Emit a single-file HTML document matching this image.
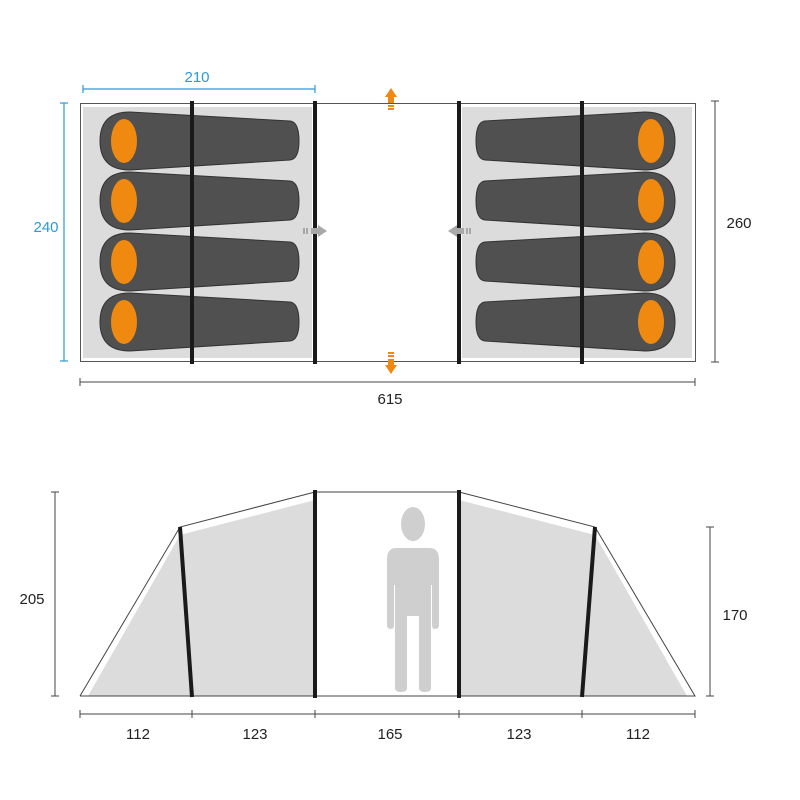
<!DOCTYPE html>
<html><head><style>html,body{margin:0;padding:0;background:#fff}svg{display:block}text{font-family:"Liberation Sans",Arial,sans-serif;font-size:15px}</style></head>
<body>
<svg width="800" height="800" viewBox="0 0 800 800" xmlns="http://www.w3.org/2000/svg">
<defs>
<path id="bagL" d="M130 112 L290 121 Q299 122 299 141 Q299 159 290 160 L130 170 Q100 170 100 141 Q100 112 130 112 Z" fill="#505050" stroke="#333" stroke-width="1"/>
</defs>
<rect x="80.5" y="103.5" width="615" height="258" fill="#fff" stroke="#555" stroke-width="1"/>
<rect x="83" y="107" width="229" height="251" fill="#dcdcdc"/>
<rect x="462" y="107" width="230" height="251" fill="#dcdcdc"/>
<g>
<use href="#bagL"/><use href="#bagL" y="60"/><use href="#bagL" y="121"/><use href="#bagL" y="181"/>
<g transform="translate(775,0) scale(-1,1)">
<use href="#bagL"/><use href="#bagL" y="60"/><use href="#bagL" y="121"/><use href="#bagL" y="181"/>
</g>
</g>
<g fill="#f0890f">
<ellipse cx="124" cy="141" rx="13" ry="22"/><ellipse cx="124" cy="201" rx="13" ry="22"/><ellipse cx="124" cy="262" rx="13" ry="22"/><ellipse cx="124" cy="322" rx="13" ry="22"/>
<ellipse cx="651" cy="141" rx="13" ry="22"/><ellipse cx="651" cy="201" rx="13" ry="22"/><ellipse cx="651" cy="262" rx="13" ry="22"/><ellipse cx="651" cy="322" rx="13" ry="22"/>
</g>
<g stroke="#1a1a1a" stroke-width="4">
<line x1="192" y1="101" x2="192" y2="364"/><line x1="315" y1="101" x2="315" y2="364"/>
<line x1="459" y1="101" x2="459" y2="364"/><line x1="582" y1="101" x2="582" y2="364"/>
</g>
<g fill="#f0890f">
<polygon points="391,88 385,97 388,97 388,103 394,103 394,97 397,97"/>
<rect x="388" y="105" width="6" height="2"/><rect x="388" y="108" width="6" height="2"/>
<polygon points="391,374 385,365 388,365 388,359 394,359 394,365 397,365"/>
<rect x="388" y="352" width="6" height="2"/><rect x="388" y="355" width="6" height="2"/>
</g>
<g fill="#a8a8a8">
<polygon points="327,231 318,225 318,228 311,228 311,234 318,234 318,237"/>
<rect x="303" y="228" width="2" height="6"/><rect x="306" y="228" width="2" height="6"/>
<polygon points="448,231 457,225 457,228 464,228 464,234 457,234 457,237"/>
<rect x="466" y="228" width="2" height="6"/><rect x="469" y="228" width="2" height="6"/>
</g>
<g stroke="#2a9ad6" stroke-width="1.2">
<line x1="83" y1="89" x2="315" y2="89"/><line x1="83" y1="85" x2="83" y2="93"/><line x1="315" y1="85" x2="315" y2="93"/>
<line x1="64" y1="103" x2="64" y2="361"/><line x1="60" y1="103" x2="68" y2="103"/><line x1="60" y1="361" x2="68" y2="361"/>
</g>
<text x="197" y="82" fill="#2a9ad6" text-anchor="middle">210</text>
<text x="46" y="232" fill="#2a9ad6" text-anchor="middle">240</text>
<g stroke="#444" stroke-width="1">
<line x1="715" y1="101" x2="715" y2="362"/><line x1="711" y1="101" x2="719" y2="101"/><line x1="711" y1="362" x2="719" y2="362"/>
<line x1="80" y1="382" x2="695" y2="382"/><line x1="80" y1="378" x2="80" y2="386"/><line x1="695" y1="378" x2="695" y2="386"/>
</g>
<text x="739" y="228" fill="#222" text-anchor="middle">260</text>
<text x="390" y="404" fill="#222" text-anchor="middle">615</text>
<polygon points="88,696 180,535 315,500 315,696" fill="#dcdcdc"/>
<polygon points="687,696 595,535 459,500 459,696" fill="#dcdcdc"/>
<polyline points="80,696 180,527 315,492 459,492 595,527 695,696 80,696" fill="none" stroke="#444" stroke-width="1"/>
<g stroke="#1a1a1a" stroke-width="4">
<line x1="180" y1="527" x2="192" y2="697"/><line x1="315" y1="490" x2="315" y2="698"/>
<line x1="459" y1="490" x2="459" y2="698"/><line x1="595" y1="527" x2="582" y2="697"/>
</g>
<g fill="#cfcfcf">
<ellipse cx="413" cy="524" rx="12" ry="17"/>
<path d="M396 548 L430 548 Q439 548 439 560 L439 625 Q439 629 435 629 Q432 629 432 625 L432 585 L431 585 L431 688 Q431 692 425 692 Q419 692 419 688 L419 616 L407 616 L407 688 Q407 692 401 692 Q395 692 395 688 L395 585 L394 585 L394 625 Q394 629 391 629 Q387 629 387 625 L387 560 Q387 548 396 548 Z"/>
</g>
<g stroke="#444" stroke-width="1">
<line x1="80" y1="714" x2="695" y2="714"/>
<line x1="80" y1="710" x2="80" y2="718"/><line x1="192" y1="710" x2="192" y2="718"/><line x1="315" y1="710" x2="315" y2="718"/><line x1="459" y1="710" x2="459" y2="718"/><line x1="582" y1="710" x2="582" y2="718"/><line x1="695" y1="710" x2="695" y2="718"/>
<line x1="55" y1="492" x2="55" y2="696"/><line x1="51" y1="492" x2="59" y2="492"/><line x1="51" y1="696" x2="59" y2="696"/>
<line x1="710" y1="527" x2="710" y2="696"/><line x1="706" y1="527" x2="714" y2="527"/><line x1="706" y1="696" x2="714" y2="696"/>
</g>
<g fill="#222" text-anchor="middle">
<text x="138" y="739">112</text><text x="255" y="739">123</text><text x="390" y="739">165</text><text x="519" y="739">123</text><text x="638" y="739">112</text>
<text x="32" y="604">205</text><text x="735" y="620">170</text>
</g>
</svg>
</body></html>
